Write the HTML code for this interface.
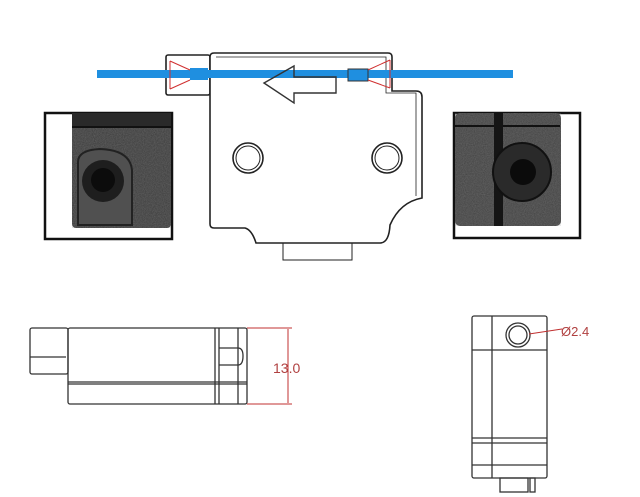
<!DOCTYPE html>
<html><head><meta charset="utf-8"><style>
html,body{margin:0;padding:0;background:#fff;width:640px;height:497px;overflow:hidden}
svg{display:block}
</style></head><body>
<svg width="640" height="497" viewBox="0 0 640 497" xmlns="http://www.w3.org/2000/svg">
<defs>
<filter id="n" x="0" y="0" width="1" height="1"><feTurbulence type="fractalNoise" baseFrequency="0.9" numOctaves="2"/><feColorMatrix values="0 0 0 0 0.3 0 0 0 0 0.3 0 0 0 0 0.3 0 0 0 0.45 0"/></filter>
</defs>
<!-- left photo -->
<rect x="45" y="113" width="127" height="126" fill="#fff" stroke="#111" stroke-width="2.5"/>
<rect x="72" y="113" width="99" height="115" rx="4" fill="#3a3a3a"/>
<rect x="72" y="113" width="99" height="115" rx="4" fill="#000" filter="url(#n)"/>
<rect x="72" y="113" width="99" height="14" fill="#2a2a2a"/>
<line x1="72" y1="127" x2="171" y2="127" stroke="#111" stroke-width="2"/>
<path d="M78 225 V162 Q78 150 100 149 Q130 150 132 170 V225 Z" fill="#505050" stroke="#222" stroke-width="2"/>
<circle cx="103" cy="181" r="21" fill="#1e1e1e"/>
<circle cx="103" cy="180" r="12" fill="#0c0c0c"/>
<!-- right photo -->
<rect x="454" y="113" width="126" height="125" fill="#fff" stroke="#111" stroke-width="2.5"/>
<rect x="455" y="113" width="106" height="113" rx="5" fill="#404040"/>
<rect x="455" y="113" width="106" height="113" rx="5" fill="#000" filter="url(#n)"/>
<line x1="455" y1="126" x2="560" y2="126" stroke="#111" stroke-width="2"/>
<rect x="494" y="113" width="9" height="113" fill="#151515"/>
<circle cx="522" cy="172" r="29" fill="#2a2a2a" stroke="#111" stroke-width="2"/>
<circle cx="523" cy="172" r="13" fill="#0b0b0b"/>
<!-- top drawing -->
<g fill="#fff" stroke="#222" stroke-width="1.6">
<rect x="283" y="243" width="69" height="17" stroke-width="1"/>
<rect x="166" y="55" width="44" height="40" rx="2"/>
<path d="M214 53 H388 Q392 53 392 57 V91 H416 Q422 91 422 97 V198 Q400 202 390 225 Q389 243 380 243 H256 Q252 230 245 228 H214 Q210 228 210 224 V57 Q210 53 214 53 Z"/>
<path d="M216 57 H386 V93 H416 V196" fill="none" stroke-width="0.8"/>
<circle cx="248" cy="158" r="15"/><circle cx="248" cy="158" r="12" stroke-width="1"/>
<circle cx="387" cy="158" r="15"/><circle cx="387" cy="158" r="12" stroke-width="1"/>
</g>
<rect x="97" y="70" width="416" height="8" fill="#1f8fe0"/>
<rect x="348" y="69" width="20" height="12" fill="#1f8fe0" stroke="#333" stroke-width="1"/>
<rect x="190" y="68" width="18" height="12" fill="#1f8fe0"/>
<g stroke="#d03030" stroke-width="1" fill="none">
<path d="M170 61 L190 70 M170 89 L190 80 M170 61 V89"/>
<path d="M390 60 L368 70 M390 88 L368 80 M390 60 V88"/>
</g>
<path d="M264 83 L294 66 V77 H336 V93 H294 V103 Z" fill="none" stroke="#333" stroke-width="1.4"/>
<!-- side view -->
<g fill="none" stroke="#333" stroke-width="1.3">
<rect x="30" y="328" width="38" height="46" rx="2"/>
<line x1="30" y1="357" x2="66" y2="357"/>
<rect x="68" y="328" width="179" height="76" rx="2"/>
<line x1="68" y1="382" x2="247" y2="382"/><line x1="68" y1="384" x2="247" y2="384"/>
<line x1="215" y1="328" x2="215" y2="404"/><line x1="219" y1="328" x2="219" y2="404"/>
<line x1="238" y1="328" x2="238" y2="404"/>
<path d="M219 348 H238 Q243 348 243 356 Q243 365 238 365 H219"/>
</g>
<g stroke="#c03030" stroke-width="1" fill="none">
<line x1="247" y1="328" x2="292" y2="328"/><line x1="247" y1="404" x2="292" y2="404"/>
<line x1="288" y1="329" x2="288" y2="403"/>
</g>
<text x="273" y="373" font-family="Liberation Sans, sans-serif" font-size="14" fill="#b04040">13.0</text>
<!-- end view -->
<g fill="none" stroke="#333" stroke-width="1.3">
<rect x="472" y="316" width="75" height="162" rx="2"/>
<line x1="492" y1="316" x2="492" y2="478"/>
<line x1="472" y1="350" x2="547" y2="350"/>
<line x1="472" y1="438" x2="547" y2="438"/><line x1="472" y1="443" x2="547" y2="443"/>
<line x1="472" y1="465" x2="547" y2="465"/>
<rect x="500" y="478" width="28" height="14"/>
<rect x="530" y="478" width="5" height="14"/>
<circle cx="518" cy="335" r="12"/><circle cx="518" cy="335" r="9"/>
</g>
<line x1="529" y1="334" x2="562" y2="329" stroke="#c03030" stroke-width="1"/>
<text x="561" y="336" font-family="Liberation Sans, sans-serif" font-size="13" fill="#b04040">Ø2.4</text>
</svg>
</body></html>
